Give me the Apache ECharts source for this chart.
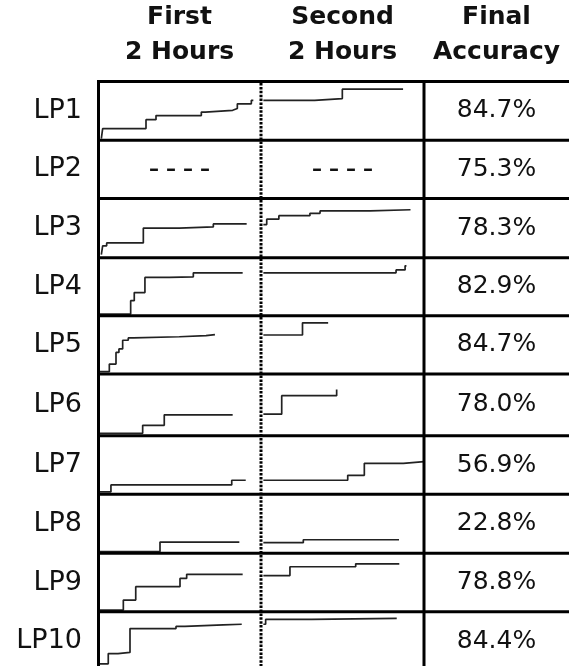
<!DOCTYPE html>
<html><head><meta charset="utf-8">
<script src="https://cdn.jsdelivr.net/npm/echarts@6/dist/echarts.min.js"></script>
<style>html,body{margin:0;padding:0;background:#fff}#c{width:569px;height:666px}</style>
</head><body><div id="c"></div>
<script>
// ---------- data ----------
const rowLabels = ['LP1','LP2','LP3','LP4','LP5','LP6','LP7','LP8','LP9','LP10'];
const finalAccuracy = [84.7, 75.3, 78.3, 82.9, 84.7, 78.0, 56.9, 22.8, 78.8, 84.4];
const headerTop = ['First', 'Second', 'Final'];
const headerBottom = ['2 Hours', '2 Hours', 'Accuracy'];
const missingMark = '– – – –';

// [minute, accuracy %] step points; first half 0-120 min, second half 120-240 min
const lp1First  = [[1,3],[2,20],[34.5,35],[42,42],[76,48],[79,51],[99.5,54],[103,62],[113.5,68],[115,68]];
const lp1Second = [[121,68],[159,71],[179.5,87],[224.5,87]];
const lp3First  = [[1,5],[2,20],[5,25],[32.5,50],[59.5,52],[85,57],[110,57]];
const lp3Second = [[121,56],[123.5,65],[132.5,71],[155.5,75],[163,79],[200,81],[230,81]];
const lp4First  = [[0,3],[23,26],[25.7,40],[33.7,66],[52,67],[70,74],[107,74]];
const lp4Second = [[121,74],[219.3,79],[226,86],[227,86]];
const lp5First  = [[0,4],[7,17],[12,37],[14.2,43],[17,58],[21.2,62],[25,64],[59.5,66],[79.5,67.5],[86.2,67.5]];
const lp5Second = [[121,67],[150,88],[169,88]];
const lp6First  = [[0,4],[32,17],[48.2,34],[99.5,34]];
const lp6Second = [[121,35],[134.6,65],[175.3,75]];
const lp7First  = [[0,4],[8.2,16],[98.8,24],[109.3,24]];
const lp7Second = [[121,24],[183.5,32.5],[195.8,53],[224.7,56],[240,56]];
const lp8First  = [[0,3],[45,19],[104.5,19]];
const lp8Second = [[121,18],[150.6,23],[221.5,23]];
const lp9First  = [[0,3],[17.5,20],[26.8,43],[60,57],[65,64],[107,64]];
const lp9Second = [[121,62],[140.7,77],[189.4,82],[221.7,82]];
const lp10First = [[0,4],[6.2,23],[13.5,25],[22.5,69],[57,73],[63.7,76],[92.5,77],[106.3,77]];
const lp10Second= [[121,77],[122.7,86],[156.8,88],[219.8,88]];

const firstHalf  = [lp1First, null, lp3First, lp4First, lp5First, lp6First, lp7First, lp8First, lp9First, lp10First];
const secondHalf = [lp1Second, null, lp3Second, lp4Second, lp5Second, lp6Second, lp7Second, lp8Second, lp9Second, lp10Second];

// ---------- layout ----------
const rowEdges = [81.5, 140.3, 198.5, 257.7, 315.8, 374, 435.8, 494.3, 553.3, 611.8, 670.3];
const cols = [
  {left: 100, width: 160, min: 0, max: 120, center: 179.5},
  {left: 262, width: 162, min: 120, max: 240, center: 342.5}
];
const accCenter = 496.5;
const FONT = '"DejaVu Sans", Verdana, sans-serif';

const grid = [], xAxis = [], yAxis = [], series = [];
const halves = [firstHalf, secondHalf];
rowLabels.forEach((lab, r) => {
  halves.forEach((arr, c) => {
    const d = arr[r];
    if (!d) return;
    const gi = grid.length;
    grid.push({left: cols[c].left, width: cols[c].width, top: rowEdges[r], height: rowEdges[r+1] - rowEdges[r]});
    xAxis.push({type: 'value', gridIndex: gi, min: cols[c].min, max: cols[c].max, show: false});
    yAxis.push({type: 'value', gridIndex: gi, min: 0, max: 100, show: false});
    series.push({
      type: 'line', xAxisIndex: gi, yAxisIndex: gi, data: d, step: 'end',
      showSymbol: false, symbol: 'none', clip: false, silent: true, animation: false,
      lineStyle: {color: '#222', width: 1.7}
    });
  });
});

const graphic = [];
// headers
headerTop.forEach((t, i) => {
  const x = i < 2 ? cols[i].center : accCenter;
  graphic.push({type: 'text', style: {text: t, x: x, y: 17.5, textAlign: 'center', textVerticalAlign: 'middle',
    font: 'bold 25px ' + FONT, fill: '#111'}});
  graphic.push({type: 'text', style: {text: headerBottom[i], x: x, y: 52, textAlign: 'center', textVerticalAlign: 'middle',
    font: 'bold 25px ' + FONT, fill: '#111'}});
});
// row labels, accuracy, missing marks
rowLabels.forEach((lab, r) => {
  const cy = (rowEdges[r] + rowEdges[r+1]) / 2;
  graphic.push({type: 'text', style: {text: lab, x: 82, y: cy, textAlign: 'right', textVerticalAlign: 'middle',
    font: '27px ' + FONT, fill: '#111'}});
  graphic.push({type: 'text', style: {text: finalAccuracy[r].toFixed(1) + '%', x: accCenter, y: cy, textAlign: 'center', textVerticalAlign: 'middle',
    font: '25px ' + FONT, fill: '#111'}});
  halves.forEach((arr, c) => {
    if (arr[r]) return;
    graphic.push({type: 'text', style: {text: missingMark, x: cols[c].center, y: cy, textAlign: 'center', textVerticalAlign: 'middle',
      font: 'bold 20px ' + FONT, fill: '#111'}});
  });
});
// table lines
rowEdges.slice(0, 10).forEach(y => {
  graphic.push({type: 'line', z: 10, shape: {x1: 97, y1: y, x2: 569, y2: y}, style: {stroke: '#000', lineWidth: 3}});
});
graphic.push({type: 'line', z: 10, shape: {x1: 98.5, y1: 80, x2: 98.5, y2: 666}, style: {stroke: '#000', lineWidth: 3}});
graphic.push({type: 'line', z: 10, shape: {x1: 424, y1: 80, x2: 424, y2: 666}, style: {stroke: '#000', lineWidth: 3}});
graphic.push({type: 'line', z: 10, shape: {x1: 261, y1: 83, x2: 261, y2: 666}, style: {stroke: '#000', lineWidth: 3, lineDash: [2.5, 1.4]}});

const chart = echarts.init(document.getElementById('c'));
chart.setOption({animation: false, grid, xAxis, yAxis, series, graphic});
</script>
</body></html>
